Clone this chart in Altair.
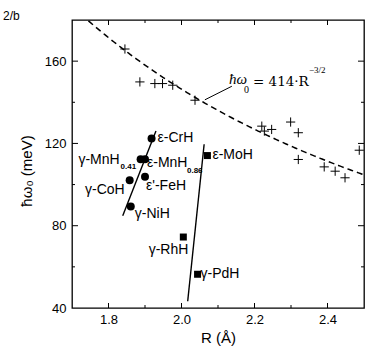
import altair as alt
import pandas as pd

# ---- data ----
cross_R = [1.845, 1.886, 1.927, 1.948, 1.976, 2.037, 2.220, 2.227, 2.247,
           2.299, 2.320, 2.320, 2.391, 2.421, 2.448, 2.487]
cross_w = [165.9, 149.9, 149.1, 149.1, 148.3, 141.0, 128.4, 126.0, 126.8,
           130.4, 125.2, 112.2, 108.6, 106.5, 103.3, 116.7]

circ_names = ["ε-CrH", "γ-MnH0.41", "ε-MnH0.86", "γ-CoH", "ε'-FeH", "γ-NiH"]
circ_R = [1.918, 1.888, 1.900, 1.858, 1.900, 1.861]
circ_w = [122.4, 112.3, 112.3, 102.1, 103.8, 89.4]

sq_names = ["ε-MoH", "γ-RhH", "γ-PdH"]
sq_R = [2.071, 2.005, 2.044]
sq_w = [114.1, 74.5, 56.4]

line_group = ["3d", "3d", "4d", "4d"]
line_R = [1.839, 1.930, 2.017, 2.062]
line_w = [84.9, 126.0, 43.3, 119.6]

fit_coef = 414
fit_exp = -1.5

x_major = [1.8, 2.0, 2.2, 2.4]
x_minor = [1.9, 2.1, 2.3]
y_major = [80, 120, 160]
y_minor = [60, 100, 140]

ann_R = [2.13]
ann_w = [150]
leader_R = [2.064]
leader_w = [141.2]
leader_R2 = [2.138]
leader_w2 = [147.8]

y_title = "ħω₀ (meV)"

# ---- chart ----
SANS = "Liberation Sans"
SERIF = "DejaVu Serif"
W, H = 292, 288

xs = alt.Scale(domain=[1.7, 2.5], nice=False, zero=False)
ys = alt.Scale(domain=[40, 180], nice=False, zero=False)

x_axis = alt.Axis(values=x_major, format=".1f", ticks=False, domain=False, grid=False,
                  labelFont=SANS, labelFontSize=13, labelColor="black", labelPadding=5,
                  labelFlush=False, title="R (Å)", titleFont=SANS, titleFontSize=15,
                  titleFontWeight="normal", titleColor="black", titlePadding=4)
y_axis = alt.Axis(values=[40] + y_major, ticks=False, domain=False, grid=False,
                  labelFont=SANS, labelFontSize=13, labelColor="black", labelPadding=6,
                  labelFlush=False, title=None)


def X(f="R"):
    return alt.X(f"{f}:Q", scale=xs, axis=x_axis)


def Y(f="w"):
    return alt.Y(f"{f}:Q", scale=ys, axis=y_axis)


cross_df = pd.DataFrame({"R": cross_R, "w": cross_w})
circ_df = pd.DataFrame({"name": circ_names, "R": circ_R, "w": circ_w})
sq_df = pd.DataFrame({"name": sq_names, "R": sq_R, "w": sq_w})
line_df = pd.DataFrame({"g": line_group, "R": line_R, "w": line_w})
pts_df = pd.concat([circ_df, sq_df], ignore_index=True)

crosses = alt.Chart(cross_df).mark_point(
    shape="M-1,0L1,0M0,-1L0,1", size=85, stroke="black", strokeWidth=1, filled=False,
    opacity=1
).encode(x=X(), y=Y())

curve = alt.Chart(alt.sequence(1.745, 2.5001, 0.005, as_="R")).transform_calculate(
    w=f"{fit_coef}*pow(datum.R,{fit_exp})"
).mark_line(strokeDash=[6, 4], color="black", strokeWidth=1.5, clip=True).encode(
    x=X(), y=Y())

fits = alt.Chart(line_df).mark_line(color="black", strokeWidth=1.4).encode(
    x=X(), y=Y(), detail="g:N")

circles = alt.Chart(circ_df).mark_circle(size=64, color="black", opacity=1).encode(
    x=X(), y=Y())
squares = alt.Chart(sq_df).mark_square(size=49, color="black", opacity=1).encode(
    x=X(), y=Y())

label_specs = [
    ("ε-CrH", "ε-CrH", "left", 6, 0),
    ("γ-MnH0.41", "γ-MnH", "right", -21, 1),
    ("ε-MnH0.86", "ε-MnH", "left", 2, 3.5),
    ("γ-CoH", "γ-CoH", "right", -5, 10),
    ("ε'-FeH", "ε'-FeH", "left", 1, 9.5),
    ("γ-NiH", "γ-NiH", "left", 4, 8),
    ("ε-MoH", "ε-MoH", "left", 5, -1),
    ("γ-RhH", "γ-RhH", "right", 5, 13),
    ("γ-PdH", "γ-PdH", "left", 3, 0),
]
sub_specs = [
    ("γ-MnH0.41", "0.41", -20, 7.5),
    ("ε-MnH0.86", "0.86", 42, 12),
]

labels = []
for name, txt, align, dx, dy in label_specs:
    labels.append(
        alt.Chart(pts_df).transform_filter(alt.datum.name == name).mark_text(
            align=align, baseline="middle", dx=dx, dy=dy, font=SANS, fontSize=14,
            color="black").encode(x=X(), y=Y(), text=alt.value(txt)))
for name, txt, dx, dy in sub_specs:
    labels.append(
        alt.Chart(pts_df).transform_filter(alt.datum.name == name).mark_text(
            align="left", baseline="middle", dx=dx, dy=dy, font=SANS, fontSize=8,
            fontWeight="bold", color="black").encode(x=X(), y=Y(), text=alt.value(txt)))

ann_df = pd.DataFrame({"R": ann_R, "w": ann_w})
ann_parts = [
    ("ħω", 0, 2.5, 15, "Liberation Serif", "italic"),
    ("0", 15, 11, 10, "Liberation Serif", "normal"),
    ("= 414·R", 24, 4, 13.5, SERIF, "normal"),
    ("−3/2", 80, -8.5, 9, "Liberation Serif", "normal"),
]
ann = []
for txt, dx, dy, fs, fnt, sty in ann_parts:
    ann.append(alt.Chart(ann_df).mark_text(
        align="left", baseline="alphabetic", dx=dx, dy=dy, fontSize=fs, font=fnt,
        fontStyle=sty, color="black").encode(x=X(), y=Y(), text=alt.value(txt)))

leader_df = pd.DataFrame({"R": leader_R, "w": leader_w, "R2": leader_R2, "w2": leader_w2})
leader = alt.Chart(leader_df).mark_rule(color="black", strokeWidth=1).encode(
    x=X(), y=Y(), x2="R2:Q", y2="w2:Q")

# inward ticks on all four sides
tick_layers = []
for vals, ln in [(x_major, 5), (x_minor, 3)]:
    d = pd.DataFrame({"R": vals})
    tick_layers.append(alt.Chart(d).mark_rule(color="black", strokeWidth=1).encode(
        x=X(), y=alt.value(H), y2=alt.value(H - ln)))
    tick_layers.append(alt.Chart(d).mark_rule(color="black", strokeWidth=1).encode(
        x=X(), y=alt.value(0), y2=alt.value(ln)))
for vals, ln in [(y_major, 6), (y_minor, 3)]:
    d = pd.DataFrame({"w": vals})
    tick_layers.append(alt.Chart(d).mark_rule(color="black", strokeWidth=1).encode(
        y=Y(), x=alt.value(0), x2=alt.value(ln)))
    tick_layers.append(alt.Chart(d).mark_rule(color="black", strokeWidth=1).encode(
        y=Y(), x=alt.value(W), x2=alt.value(W - ln)))

corner = alt.Chart(pd.DataFrame({"t": ["2/b"]})).mark_text(
    align="left", baseline="alphabetic", font=SANS, fontSize=12, color="black"
).encode(text="t:N", x=alt.value(-69), y=alt.value(0))

ytitle = alt.Chart(pd.DataFrame({"t": [y_title]})).mark_text(
    align="center", baseline="middle", angle=270, font=SANS, fontSize=15, color="black"
).encode(text="t:N", x=alt.value(-45), y=alt.value(151))

chart = alt.layer(
    crosses, curve, fits, *labels, circles, squares, *ann, leader, *tick_layers,
    corner, ytitle
).properties(
    width=W, height=H,
    autosize=alt.AutoSizeParams(type="none"),
    padding={"left": 72, "top": 20, "right": 8, "bottom": 40},
    background="white",
).configure_view(stroke="black", strokeWidth=1.3)

chart.save("out.html", embed_options={"renderer": "svg", "actions": False})
